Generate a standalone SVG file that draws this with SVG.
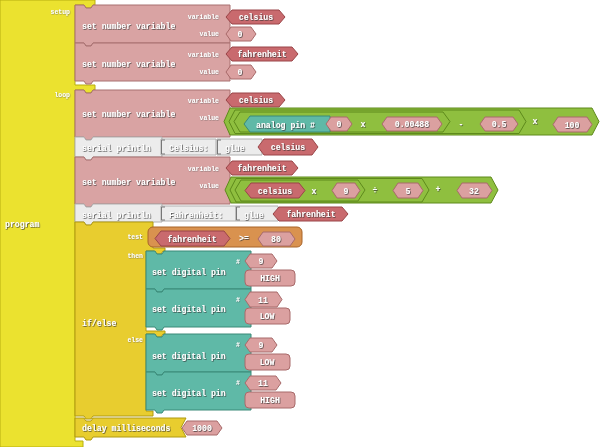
<svg xmlns="http://www.w3.org/2000/svg" width="600" height="447" viewBox="0 0 600 447">
<defs>
<filter id="sh" x="-10%" y="-30%" width="120%" height="160%"><feDropShadow dx="0.7" dy="0.7" stdDeviation="0.3" flood-color="#333" flood-opacity="0.9"/></filter>
<filter id="sh2" x="-10%" y="-30%" width="120%" height="160%"><feDropShadow dx="0.5" dy="0.5" stdDeviation="0.3" flood-color="#555" flood-opacity="0.7"/></filter>
<style>
.prog{fill:#ebe22f;stroke:#b8ae10;stroke-width:1}
.ctrl{fill:#e8cd2f;stroke:#b09a10;stroke-width:1}
.setv{fill:#d9a3a3;stroke:#a87070;stroke-width:1}
.var{fill:#c96a6e;stroke:#9a4548;stroke-width:1}
.num{fill:#dba0a0;stroke:#a86a6a;stroke-width:1}
.grn{fill:#8fbf3f;stroke:#5e8a1c;stroke-width:1}
.teal{fill:#5fb9a7;stroke:#3a8a78;stroke-width:1}
.org{fill:#d9924f;stroke:#a86428;stroke-width:1}
.gry{fill:#ececec;stroke:#b0b0b0;stroke-width:1}
.br{fill:none;stroke:#777;stroke-width:1}
text{font-family:"Liberation Mono","DejaVu Sans Mono",monospace;font-weight:bold;fill:#fff}
.t{font-size:8.2px;filter:url(#sh)}
.l{font-size:6.5px;filter:url(#sh2)}
.m{text-anchor:middle}
.e{text-anchor:end}
</style>
</defs>

<g id="program">
<path class="prog" d="M0,0 H95 V5 H93 L91,8 H86 L84,5 H75 V85 H95 V90 H93 L91,93 H86 L84,90 H75 V441 H83 V447 H0 Z"/>
<text class="l e" x="70" y="14">setup</text>
<text class="l e" x="70" y="97">loop</text>
<text class="t" x="5" y="227">program</text>
</g>

<g id="set1">
<path class="setv" d="M75,5 H84 L86,8 H91 L93,5 H230 V43 H93 L91,46 H86 L84,43 H75 Z"/>
<text class="t" x="82" y="29">set number variable</text>
<text class="l e" x="219" y="19">variable</text>
<text class="l e" x="219" y="36">value</text>
<path class="var" d="M226,17 L232,10 H279 L285,17 L279,24 H232 Z"/>
<text class="t m" x="256" y="20">celsius</text>
<path class="num" d="M226,34 L231,27 H251 L256,34 L251,41 H231 Z"/>
<text class="t m" x="240" y="37">0</text>
</g>

<g id="set2">
<path class="setv" d="M75,43 H84 L86,46 H91 L93,43 H230 V81 H93 L91,84 H86 L84,81 H75 Z"/>
<text class="t" x="82" y="67">set number variable</text>
<text class="l e" x="219" y="57">variable</text>
<text class="l e" x="219" y="74">value</text>
<path class="var" d="M226,54 L232,47 H292 L298,54 L292,61 H232 Z"/>
<text class="t m" x="262" y="57">fahrenheit</text>
<path class="num" d="M226,72 L231,65 H251 L256,72 L251,79 H231 Z"/>
<text class="t m" x="240" y="75">0</text>
</g>

<g id="set3">
<path class="setv" d="M75,90 H84 L86,93 H91 L93,90 H230 V137 H93 L91,140 H86 L84,137 H75 Z"/>
<text class="t" x="82" y="117">set number variable</text>
<text class="l e" x="219" y="103">variable</text>
<text class="l e" x="219" y="120">value</text>
<path class="var" d="M226,100 L232,93 H279 L285,100 L279,107 H232 Z"/>
<text class="t m" x="256" y="103">celsius</text>
</g>

<g id="expr1">
<path class="grn" d="M224,121.5 L230,108 H592 L599,121.5 L592,135 H230 Z"/>
<path class="grn" d="M229,121.5 L235,110 H519 L526,121.5 L519,133.5 H235 Z"/>
<path class="grn" d="M234,121.5 L240,112 H443 L450,121.5 L443,132 H240 Z"/>
<path class="teal" d="M244,124 L250,116 H330 V132 H250 Z"/>
<text class="t" x="256" y="128">analog pin #</text>
<path class="num" d="M326,124 L331,117 H347 L352,124 L347,131 H331 Z"/>
<text class="t m" x="339" y="127">0</text>
<text class="t m" x="363" y="127">x</text>
<path class="num" d="M382,124 L387,117 H437 L442,124 L437,131 H387 Z"/>
<text class="t m" x="412" y="127">0.00488</text>
<text class="t m" x="461" y="127">-</text>
<path class="num" d="M480,124 L485,117 H513 L518,124 L513,131 H485 Z"/>
<text class="t m" x="499" y="127">0.5</text>
<text class="t m" x="535" y="124">x</text>
<path class="num" d="M553,124.5 L558,117 H587 L592,124.5 L587,132 H558 Z"/>
<text class="t m" x="572" y="128">100</text>
</g>

<g id="println1">
<path class="gry" d="M75,137 H84 L86,140 H91 L93,137 H162 V157 H93 L91,160 H86 L84,157 H75 Z"/>
<text class="t" x="82" y="151">serial println</text>
<path class="gry" d="M161,139 H216 V155 H161 Z"/>
<path class="br" d="M165,140 H161.5 V154 H165"/>
<text class="t" x="169" y="151">Celsius:</text>
<path class="gry" d="M217,139 H262 V155 H217 Z"/>
<path class="br" d="M221,140 H217.5 V154 H221"/>
<text class="t" x="225" y="151">glue</text>
<path class="var" d="M258,147 L264,139 H312 L318,147 L312,155 H264 Z"/>
<text class="t m" x="288" y="150">celsius</text>
</g>

<g id="set4">
<path class="setv" d="M75,157 H84 L86,160 H91 L93,157 H230 V204 H93 L91,207 H86 L84,204 H75 Z"/>
<text class="t" x="82" y="185">set number variable</text>
<text class="l e" x="219" y="171">variable</text>
<text class="l e" x="219" y="188">value</text>
<path class="var" d="M226,168 L232,161 H292 L298,168 L292,175 H232 Z"/>
<text class="t m" x="262" y="171">fahrenheit</text>
</g>

<g id="expr2">
<path class="grn" d="M225,190 L231,177 H491 L498,190 L491,203 H231 Z"/>
<path class="grn" d="M230,190 L236,178.5 H422 L429,190 L422,202 H236 Z"/>
<path class="grn" d="M235,190 L241,180 H358 L365,190 L358,201 H241 Z"/>
<path class="var" d="M245,190.5 L251,183 H299 L305,190.5 L299,198 H251 Z"/>
<text class="t m" x="275" y="194">celsius</text>
<text class="t m" x="314" y="194">x</text>
<path class="num" d="M332,190.5 L337,183 H355 L360,190.5 L355,198 H337 Z"/>
<text class="t m" x="346" y="194">9</text>
<text class="t m" x="375" y="193">÷</text>
<path class="num" d="M393,190.5 L398,183 H418 L423,190.5 L418,198 H398 Z"/>
<text class="t m" x="408" y="194">5</text>
<text class="t m" x="438" y="192">+</text>
<path class="num" d="M457,190.5 L462,183 H487 L492,190.5 L487,198 H462 Z"/>
<text class="t m" x="474" y="194">32</text>
</g>

<g id="println2">
<path class="gry" d="M75,204 H84 L86,207 H91 L93,204 H162 V222 H93 L91,225 H86 L84,222 H75 Z"/>
<text class="t" x="82" y="218">serial println</text>
<path class="gry" d="M161,206 H236 V221 H161 Z"/>
<path class="br" d="M165,207 H161.5 V220 H165"/>
<text class="t" x="169" y="218">Fahrenheit:</text>
<path class="gry" d="M236,206 H278 V221 H236 Z"/>
<path class="br" d="M240,207 H236.5 V220 H240"/>
<text class="t" x="244" y="218">glue</text>
<path class="var" d="M273,214 L279,207 H342 L348,214 L342,221 H279 Z"/>
<text class="t m" x="311" y="217">fahrenheit</text>
</g>

<g id="ifelse">
<path class="ctrl" d="M75,222 H84 L86,225 H91 L93,222 H153 V248 H165 V251 H163 L161,254 H156 L154,251 H146 V331 H165 V334 H163 L161,337 H156 L154,334 H146 V411 H153 V416 H93 L91,419 H86 L84,416 H75 Z"/>
<text class="l e" x="143" y="239">test</text>
<text class="l e" x="143" y="258">then</text>
<text class="l e" x="143" y="342">else</text>
<text class="t" x="82" y="326">if/else</text>
</g>

<g id="test">
<rect class="org" x="148" y="227" width="154" height="20" rx="5"/>
<path class="var" d="M155,238.5 L161,231 H224 L230,238.5 L224,246 H161 Z"/>
<text class="t m" x="192" y="242">fahrenheit</text>
<text class="t m" x="244" y="241">&gt;=</text>
<path class="num" d="M258,239 L263,232 H290 L295,239 L290,246 H263 Z"/>
<text class="t m" x="276" y="242">80</text>
</g>

<g id="pin1">
<path class="teal" d="M146,251 H155 L157,254 H162 L164,251 H251 V289 H164 L162,292 H157 L155,289 H146 Z"/>
<text class="t" x="152" y="275">set digital pin</text>
<text class="l" x="236" y="264">#</text>
<path class="num" d="M245,261 L250,254 H272 L277,261 L272,268 H250 Z"/>
<text class="t m" x="261" y="264">9</text>
<rect class="num" x="245" y="270" width="50" height="16" rx="4"/>
<text class="t m" x="270" y="281">HIGH</text>
</g>

<g id="pin2">
<path class="teal" d="M146,289 H155 L157,292 H162 L164,289 H251 V327 H164 L162,330 H157 L155,327 H146 Z"/>
<text class="t" x="152" y="312">set digital pin</text>
<text class="l" x="236" y="302">#</text>
<path class="num" d="M245,299.5 L250,292 H277 L282,299.5 L277,307 H250 Z"/>
<text class="t m" x="263" y="303">11</text>
<rect class="num" x="245" y="308" width="45" height="16" rx="4"/>
<text class="t m" x="267" y="319">LOW</text>
</g>

<g id="pin3">
<path class="teal" d="M146,334 H155 L157,337 H162 L164,334 H251 V372 H164 L162,375 H157 L155,372 H146 Z"/>
<text class="t" x="152" y="359">set digital pin</text>
<text class="l" x="236" y="347">#</text>
<path class="num" d="M245,345 L250,338 H272 L277,345 L272,352 H250 Z"/>
<text class="t m" x="261" y="348">9</text>
<rect class="num" x="245" y="354" width="45" height="16" rx="4"/>
<text class="t m" x="267" y="365">LOW</text>
</g>

<g id="pin4">
<path class="teal" d="M146,372 H155 L157,375 H162 L164,372 H251 V410 H164 L162,413 H157 L155,410 H146 Z"/>
<text class="t" x="152" y="396">set digital pin</text>
<text class="l" x="236" y="385">#</text>
<path class="num" d="M245,383 L250,376 H276 L281,383 L276,390 H250 Z"/>
<text class="t m" x="263" y="386">11</text>
<rect class="num" x="245" y="392" width="50" height="16" rx="4"/>
<text class="t m" x="270" y="403">HIGH</text>
</g>

<g id="delay">
<path class="ctrl" d="M75,418 H84 L86,421 H91 L93,418 H186 L181,427.5 L186,437 H93 L91,440 H86 L84,437 H75 Z"/>
<text class="t" x="82" y="431">delay milliseconds</text>
<path class="num" d="M182,428 L187,421 H217 L222,428 L217,435 H187 Z"/>
<text class="t m" x="202" y="431">1000</text>
</g>

<g id="connectors"></g>
</svg>
